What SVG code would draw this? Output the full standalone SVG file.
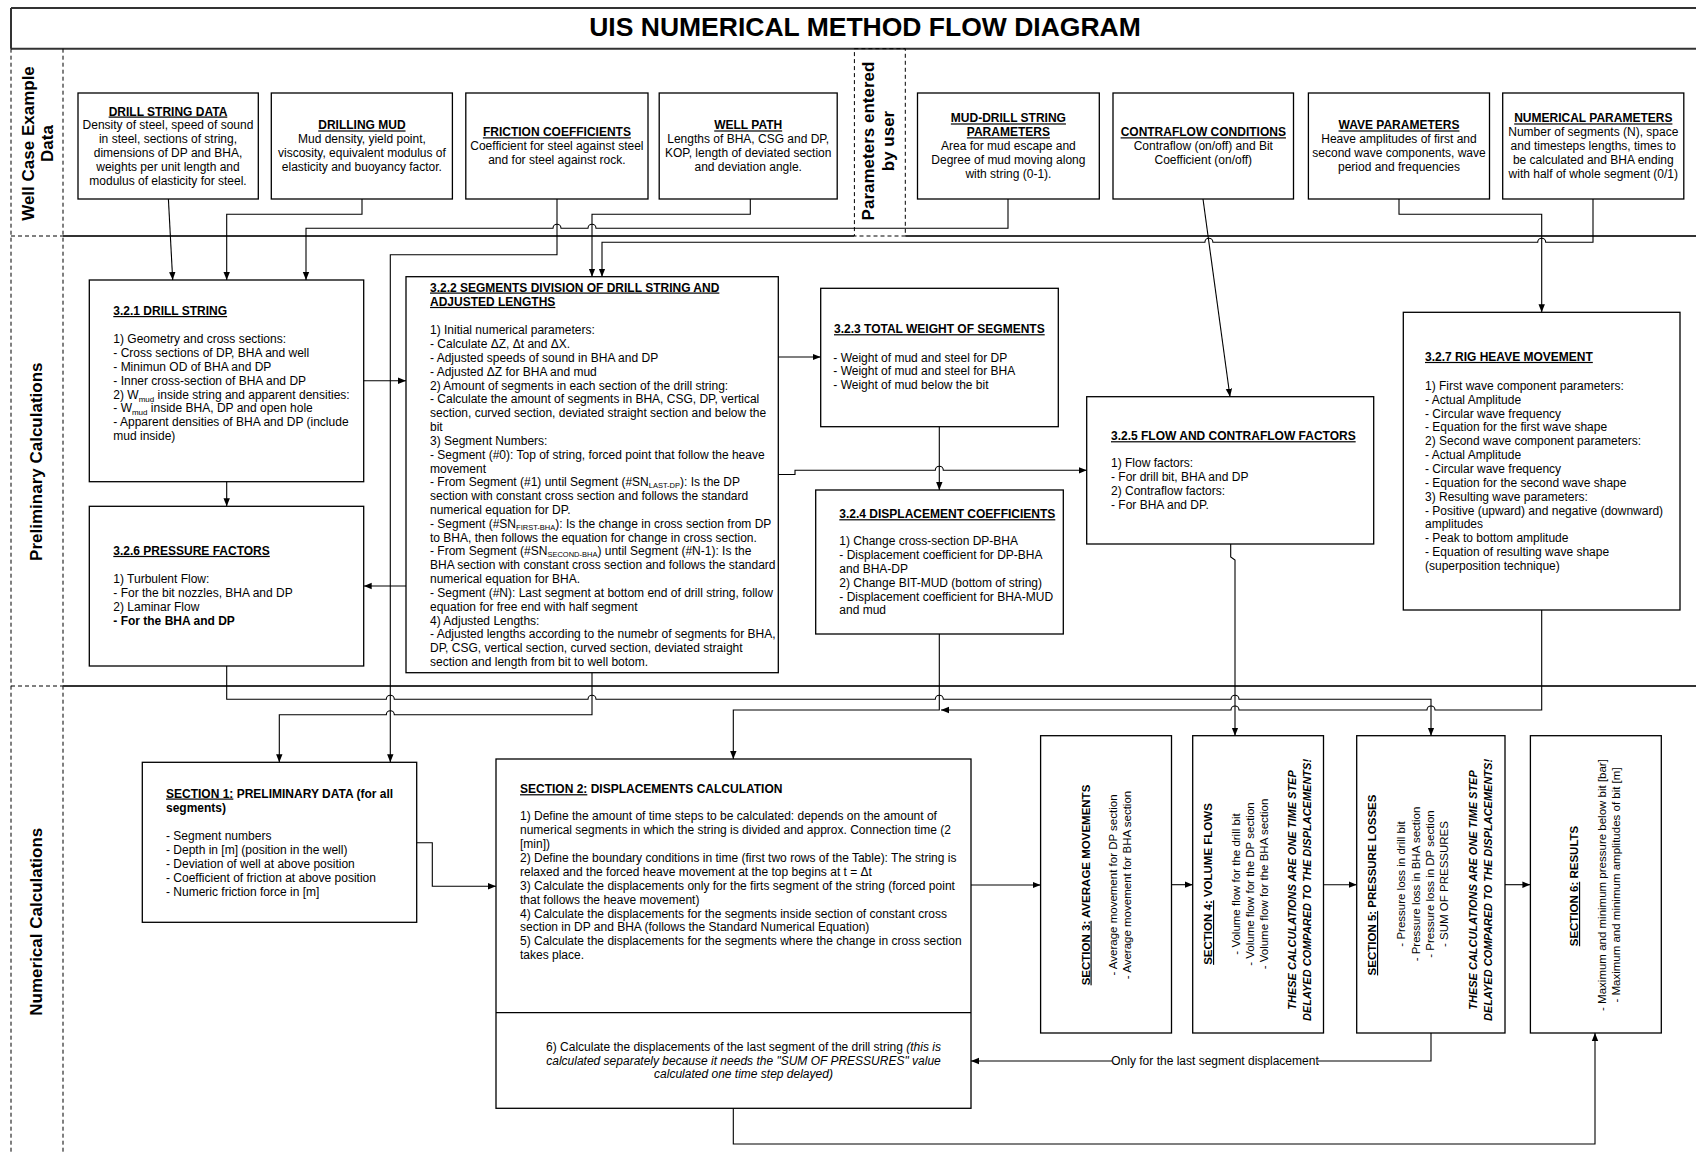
<svg xmlns="http://www.w3.org/2000/svg" width="1696" height="1154" viewBox="0 0 1696 1154">
<defs>
<style>
text{font-family:"Liberation Sans",Arial,sans-serif;font-size:12px;fill:#000}
.b{font-weight:bold}
.u{text-decoration:underline}
.i{font-style:italic}
.m{text-anchor:middle}
.lab{font-size:17px;font-weight:bold}
.r{font-size:11.5px}
.ri{font-size:11px;font-weight:bold;font-style:italic}
.box{fill:#fff;stroke:#000;stroke-width:1.3}
.lane{stroke:#333;stroke-width:2;fill:none}
.dash{stroke:#000;stroke-width:1;stroke-dasharray:4 3;fill:none}
#connectors path{fill:none;stroke:#000;stroke-width:1.1}
</style>
<marker id="arr" viewBox="0 0 10 10" refX="10" refY="5" markerWidth="8" markerHeight="8" orient="auto" markerUnits="userSpaceOnUse"><path d="M0,1 L10,5 L0,9 z" fill="#000"/></marker>
</defs>
<rect width="1696" height="1154" fill="#fff"/>

<g id="frame">
<line class="lane" x1="11" y1="8" x2="1696" y2="8"/>
<line class="lane" x1="11" y1="48.7" x2="1696" y2="48.7"/>
<line class="lane" x1="11" y1="8" x2="11" y2="48.7"/>
<line class="dash" x1="11" y1="48.7" x2="11" y2="1154"/>
<line class="dash" x1="63" y1="48.7" x2="63" y2="1154"/>
<line class="dash" x1="11" y1="236" x2="63" y2="236"/>
<line class="dash" x1="11" y1="686" x2="63" y2="686"/>
<line class="lane" x1="63" y1="236" x2="854.4" y2="236"/>
<line class="lane" x1="905.3" y1="236" x2="1696" y2="236"/>
<line class="lane" x1="63" y1="686" x2="1696" y2="686"/>
<rect class="dash" x="854.4" y="48.7" width="50.9" height="187.3"/>
<text class="b m" x="865" y="36" style="font-size:26.5px">UIS NUMERICAL METHOD FLOW DIAGRAM</text>
<text class="lab m" transform="translate(34,143.5) rotate(-90)">Well Case Example</text>
<text class="lab m" transform="translate(52.5,143.5) rotate(-90)">Data</text>
<text class="lab m" transform="translate(41.5,461.7) rotate(-90)">Preliminary Calculations</text>
<text class="lab m" transform="translate(41.5,921.7) rotate(-90)">Numerical Calculations</text>
<text class="lab m" transform="translate(873.5,141) rotate(-90)">Parameters entered</text>
<text class="lab m" transform="translate(893.5,141) rotate(-90)">by user</text>
</g>

<g id="connectors">
<path d="M168.4,199 L172.7,280" marker-end="url(#arr)"/>
<path d="M362,199 V214.3 H226.7 V280" marker-end="url(#arr)"/>
<path d="M1008,199 V228.3 H596 A4,4 0 0 0 588,228.3 H561 A4,4 0 0 0 553,228.3 H306 V280" marker-end="url(#arr)"/>
<path d="M557,199 V254.7 H390.3 V762.3" marker-end="url(#arr)"/>
<path d="M750.3,199 V214.3 H592 V276.7" marker-end="url(#arr)"/>
<path d="M1593,199 V242.3 H1545.7 A4,4 0 0 0 1537.7,242.3 H1212.9 A4,4 0 0 0 1204.9,242.3 H602 V276.7" marker-end="url(#arr)"/>
<path d="M1399,199 V214.3 H1541.7 V312.3" marker-end="url(#arr)"/>
<path d="M1203,199 L1230,396.7" marker-end="url(#arr)"/>
<path d="M363.7,380.7 H406" marker-end="url(#arr)"/>
<path d="M226.7,481.7 V506.3" marker-end="url(#arr)"/>
<path d="M406,586 H363.7" marker-end="url(#arr)"/>
<path d="M778.3,357 H820.7" marker-end="url(#arr)"/>
<path d="M778.3,474.5 H795 V470.3 H935.3 A4,4 0 0 1 943.3,470.3 H1086.7" marker-end="url(#arr)"/>
<path d="M939.3,426.7 V490" marker-end="url(#arr)"/>
<path d="M1230.7,544 V557 L1235,560 V735.7" marker-end="url(#arr)"/>
<path d="M226.7,666 V699.3 H386.3 A4,4 0 0 1 394.3,699.3 H588 A4,4 0 0 1 596,699.3 H935.3 A4,4 0 0 1 943.3,699.3 H1231 A4,4 0 0 1 1239,699.3 H1431 V735.7" marker-end="url(#arr)"/>
<path d="M592,672.7 V714.7 H394.3 A4,4 0 0 0 386.3,714.7 H279.3 V762.3" marker-end="url(#arr)"/>
<path d="M939.3,634 V710 H733.3 V759" marker-end="url(#arr)"/>
<path d="M1541.7,610 V710 H1435 A4,4 0 0 0 1427,710 H1239 A4,4 0 0 0 1231,710 H941" marker-end="url(#arr)"/>
<path d="M416.7,842.7 H432.3 V886.3 H496" marker-end="url(#arr)"/>
<path d="M971,885 H1040.6" marker-end="url(#arr)"/>
<path d="M1171.5,884.7 H1192.7" marker-end="url(#arr)"/>
<path d="M1323.5,884.7 H1356.7" marker-end="url(#arr)"/>
<path d="M1505,884.7 H1530.4" marker-end="url(#arr)"/>
<path d="M1431,1033 V1061 H971" marker-end="url(#arr)"/>
<path d="M733.3,1108.3 V1144 H1595 V1033" marker-end="url(#arr)"/>
<rect x="1112" y="1053" width="206" height="15" fill="#fff"/>
<text class="m" x="1215" y="1065">Only for the last segment displacement</text>
</g>

<g id="drill-string-data">
<rect class="box" x="78" y="93" width="180.3" height="106"/>
<text class="m" x="168" y="115.5"><tspan class="b u">DRILL STRING DATA</tspan><tspan x="168" dy="13.9">Density of steel, speed of sound</tspan><tspan x="168" dy="13.9">in steel, sections of string,</tspan><tspan x="168" dy="13.9">dimensions of DP and BHA,</tspan><tspan x="168" dy="13.9">weights per unit length and</tspan><tspan x="168" dy="13.9">modulus of elasticity for steel.</tspan></text>
</g>
<g id="drilling-mud">
<rect class="box" x="271.3" y="93" width="181.1" height="106"/>
<text class="m" x="361.9" y="129.4"><tspan class="b u">DRILLING MUD</tspan><tspan x="361.9" dy="13.9">Mud density, yield point,</tspan><tspan x="361.9" dy="13.9">viscosity, equivalent modulus of</tspan><tspan x="361.9" dy="13.9">elasticity and buoyancy factor.</tspan></text>
</g>
<g id="friction-coefficients">
<rect class="box" x="465.8" y="93" width="182.2" height="106"/>
<text class="m" x="556.9" y="136.3"><tspan class="b u">FRICTION COEFFICIENTS</tspan><tspan x="556.9" dy="13.9">Coefficient for steel against steel</tspan><tspan x="556.9" dy="13.9">and for steel against rock.</tspan></text>
</g>
<g id="well-path">
<rect class="box" x="659.2" y="93" width="178" height="106"/>
<text class="m" x="748.2" y="129.4"><tspan class="b u">WELL PATH</tspan><tspan x="748.2" dy="13.9">Lengths of BHA, CSG and DP,</tspan><tspan x="748.2" dy="13.9">KOP, length of deviated section</tspan><tspan x="748.2" dy="13.9">and deviation angle.</tspan></text>
</g>
<g id="mud-drill-string-parameters">
<rect class="box" x="917.5" y="93" width="181.8" height="106"/>
<text class="m" x="1008.4" y="122.4"><tspan class="b u">MUD-DRILL STRING</tspan><tspan x="1008.4" dy="13.9" class="b u">PARAMETERS</tspan><tspan x="1008.4" dy="13.9">Area for mud escape and</tspan><tspan x="1008.4" dy="13.9">Degree of mud moving along</tspan><tspan x="1008.4" dy="13.9">with string (0-1).</tspan></text>
</g>
<g id="contraflow-conditions">
<rect class="box" x="1113" y="93" width="180.5" height="106"/>
<text class="m" x="1203.3" y="136.3"><tspan class="b u">CONTRAFLOW CONDITIONS</tspan><tspan x="1203.3" dy="13.9">Contraflow (on/off) and Bit</tspan><tspan x="1203.3" dy="13.9">Coefficient (on/off)</tspan></text>
</g>
<g id="wave-parameters">
<rect class="box" x="1308.4" y="93" width="181.1" height="106"/>
<text class="m" x="1399" y="129.4"><tspan class="b u">WAVE PARAMETERS</tspan><tspan x="1399" dy="13.9">Heave amplitudes of first and</tspan><tspan x="1399" dy="13.9">second wave components, wave</tspan><tspan x="1399" dy="13.9">period and frequencies</tspan></text>
</g>
<g id="numerical-parameters">
<rect class="box" x="1502.7" y="93" width="181.1" height="106"/>
<text class="m" x="1593.3" y="122.4"><tspan class="b u">NUMERICAL PARAMETERS</tspan><tspan x="1593.3" dy="13.9">Number of segments (N), space</tspan><tspan x="1593.3" dy="13.9">and timesteps lengths, times to</tspan><tspan x="1593.3" dy="13.9">be calculated and BHA ending</tspan><tspan x="1593.3" dy="13.9">with half of whole segment (0/1)</tspan></text>
</g>

<g id="n321-drill-string">
<rect class="box" x="89.3" y="280" width="274.4" height="201.7"/>
<text x="113.3" y="315"><tspan class="b u">3.2.1 DRILL STRING</tspan><tspan x="113.3" y="343.2">1) Geometry and cross sections:</tspan><tspan x="113.3" dy="13.85">- Cross sections of DP, BHA and well</tspan><tspan x="113.3" dy="13.85">- Minimun OD of BHA and DP</tspan><tspan x="113.3" dy="13.85">- Inner cross-section of BHA and DP</tspan><tspan x="113.3" dy="13.85">2) W</tspan><tspan font-size="8" dy="3">mud</tspan><tspan dy="-3"> inside string and apparent densities:</tspan><tspan x="113.3" dy="13.85">- W</tspan><tspan font-size="8" dy="3">mud</tspan><tspan dy="-3"> inside BHA, DP and open hole</tspan><tspan x="113.3" dy="13.85">- Apparent densities of BHA and DP (include</tspan><tspan x="113.3" dy="13.85">mud inside)</tspan></text>
</g>

<g id="n326-pressure-factors">
<rect class="box" x="89.3" y="506.3" width="274.4" height="159.7"/>
<text x="113.3" y="554.9"><tspan class="b u">3.2.6 PRESSURE FACTORS</tspan><tspan x="113.3" y="583.2">1) Turbulent Flow:</tspan><tspan x="113.3" dy="13.9">- For the bit nozzles, BHA and DP</tspan><tspan x="113.3" dy="13.9">2) Laminar Flow</tspan><tspan x="113.3" dy="13.9" class="b">- For the BHA and DP</tspan></text>
</g>

<g id="n322-segments-division">
<rect class="box" x="406" y="276.7" width="372.3" height="396"/>
<text x="430" y="291.5"><tspan class="b u">3.2.2 SEGMENTS DIVISION OF DRILL STRING AND</tspan><tspan x="430" dy="14.4" class="b u">ADJUSTED LENGTHS</tspan>
<tspan x="430" y="334.2">1) Initial numerical parameters:</tspan>
<tspan x="430" dy="13.83">- Calculate ΔZ, Δt and ΔX.</tspan>
<tspan x="430" dy="13.83">- Adjusted speeds of sound in BHA and DP</tspan>
<tspan x="430" dy="13.83">- Adjusted ΔZ for BHA and mud</tspan>
<tspan x="430" dy="13.83">2) Amount of segments in each section of the drill string:</tspan>
<tspan x="430" dy="13.83">- Calculate the amount of segments in BHA, CSG, DP, vertical</tspan>
<tspan x="430" dy="13.83">section, curved section, deviated straight section and below the</tspan>
<tspan x="430" dy="13.83">bit</tspan>
<tspan x="430" dy="13.83">3) Segment Numbers:</tspan>
<tspan x="430" dy="13.83">- Segment (#0): Top of string, forced point that follow the heave</tspan>
<tspan x="430" dy="13.83">movement</tspan>
<tspan x="430" dy="13.83">- From Segment (#1) until Segment (#SN</tspan><tspan font-size="7.5" dy="2">LAST-DP</tspan><tspan dy="-2">): Is the DP</tspan>
<tspan x="430" dy="13.83">section with constant cross section and follows the standard</tspan>
<tspan x="430" dy="13.83">numerical equation for DP.</tspan>
<tspan x="430" dy="13.83">- Segment (#SN</tspan><tspan font-size="7.5" dy="2">FIRST-BHA</tspan><tspan dy="-2">): Is the change in cross section from DP</tspan>
<tspan x="430" dy="13.83">to BHA, then follows the equation for change in cross section.</tspan>
<tspan x="430" dy="13.83">- From Segment (#SN</tspan><tspan font-size="7.5" dy="2">SECOND-BHA</tspan><tspan dy="-2">) until Segment (#N-1): Is the</tspan>
<tspan x="430" dy="13.83">BHA section with constant cross section and follows the standard</tspan>
<tspan x="430" dy="13.83">numerical equation for BHA.</tspan>
<tspan x="430" dy="13.83">- Segment (#N): Last segment at bottom end of drill string, follow</tspan>
<tspan x="430" dy="13.83">equation for free end with half segment</tspan>
<tspan x="430" dy="13.83">4) Adjusted Lengths:</tspan>
<tspan x="430" dy="13.83">- Adjusted lengths according to the numebr of segments for BHA,</tspan>
<tspan x="430" dy="13.83">DP, CSG, vertical section, curved section, deviated straight</tspan>
<tspan x="430" dy="13.83">section and length from bit to well botom.</tspan></text>
</g>

<g id="n323-total-weight">
<rect class="box" x="820.7" y="288.3" width="237.6" height="138.4"/>
<text x="834" y="333.2"><tspan class="b u">3.2.3 TOTAL WEIGHT OF SEGMENTS</tspan><tspan x="833.3" y="361.5">- Weight of mud and steel for DP</tspan><tspan x="833.3" dy="13.85">- Weight of mud and steel for BHA</tspan><tspan x="833.3" dy="13.85">- Weight of mud below the bit</tspan></text>
</g>

<g id="n324-displacement-coefficients">
<rect class="box" x="815.7" y="490" width="247.6" height="144"/>
<text x="839.3" y="518.2"><tspan class="b u">3.2.4 DISPLACEMENT COEFFICIENTS</tspan><tspan x="839.3" y="544.9">1) Change cross-section DP-BHA</tspan><tspan x="839.3" dy="13.9">- Displacement coefficient for DP-BHA</tspan><tspan x="839.3" dy="13.9">and BHA-DP</tspan><tspan x="839.3" dy="13.9">2) Change BIT-MUD (bottom of string)</tspan><tspan x="839.3" dy="13.9">- Displacement coefficient for BHA-MUD</tspan><tspan x="839.3" dy="13.9">and mud</tspan></text>
</g>

<g id="n325-flow-contraflow">
<rect class="box" x="1086.7" y="396.7" width="287" height="147.3"/>
<text x="1111" y="440.2"><tspan class="b u">3.2.5 FLOW AND CONTRAFLOW FACTORS</tspan><tspan x="1111" y="466.9">1) Flow factors:</tspan><tspan x="1111" dy="13.9">- For drill bit, BHA and DP</tspan><tspan x="1111" dy="13.9">2) Contraflow factors:</tspan><tspan x="1111" dy="13.9">- For BHA and DP.</tspan></text>
</g>

<g id="n327-rig-heave">
<rect class="box" x="1403.3" y="312.3" width="276.7" height="297.7"/>
<text x="1425" y="360.9"><tspan class="b u">3.2.7 RIG HEAVE MOVEMENT</tspan>
<tspan x="1425" y="389.9">1) First wave component parameters:</tspan>
<tspan x="1425" dy="13.85">- Actual Amplitude</tspan>
<tspan x="1425" dy="13.85">- Circular wave frequency</tspan>
<tspan x="1425" dy="13.85">- Equation for the first wave shape</tspan>
<tspan x="1425" dy="13.85">2) Second wave component parameters:</tspan>
<tspan x="1425" dy="13.85">- Actual Amplitude</tspan>
<tspan x="1425" dy="13.85">- Circular wave frequency</tspan>
<tspan x="1425" dy="13.85">- Equation for the second wave shape</tspan>
<tspan x="1425" dy="13.85">3) Resulting wave parameters:</tspan>
<tspan x="1425" dy="13.85">- Positive (upward) and negative (downward)</tspan>
<tspan x="1425" dy="13.85">amplitudes</tspan>
<tspan x="1425" dy="13.85">- Peak to bottom amplitude</tspan>
<tspan x="1425" dy="13.85">- Equation of resulting wave shape</tspan>
<tspan x="1425" dy="13.85">(superposition technique)</tspan></text>
</g>

<g id="section1">
<rect class="box" x="142.3" y="762.3" width="274.4" height="160"/>
<text x="166" y="797.5" class="b"><tspan class="u">SECTION 1:</tspan><tspan> PRELIMINARY DATA (for all</tspan><tspan x="166" dy="14">segments)</tspan></text>
<text x="166" y="839.5"><tspan>- Segment numbers</tspan><tspan x="166" dy="14">- Depth in [m] (position in the well)</tspan><tspan x="166" dy="14">- Deviation of well at above position</tspan><tspan x="166" dy="14">- Coefficient of friction at above position</tspan><tspan x="166" dy="14">- Numeric friction force in [m]</tspan></text>
</g>

<g id="section2">
<rect class="box" x="496" y="759" width="475" height="349.3"/>
<line x1="496" y1="1012.7" x2="971" y2="1012.7" stroke="#000" stroke-width="1.3"/>
<text x="520" y="793.2" class="b"><tspan class="u">SECTION 2:</tspan><tspan> DISPLACEMENTS CALCULATION</tspan></text>
<text x="520" y="820.2">
<tspan x="520">1) Define the amount of time steps to be calculated: depends on the amount of</tspan>
<tspan x="520" dy="13.9">numerical segments in which the string is divided and approx. Connection time (2</tspan>
<tspan x="520" dy="13.9">[min])</tspan>
<tspan x="520" dy="13.9">2) Define the boundary conditions in time (first two rows of the Table): The string is</tspan>
<tspan x="520" dy="13.9">relaxed and the forced heave movement at the top begins at t = Δt</tspan>
<tspan x="520" dy="13.9">3) Calculate the displacements only for the firts segment of the string (forced point</tspan>
<tspan x="520" dy="13.9">that follows the heave movement)</tspan>
<tspan x="520" dy="13.9">4) Calculate the displacements for the segments inside section of constant cross</tspan>
<tspan x="520" dy="13.9">section in DP and BHA (follows the Standard Numerical Equation)</tspan>
<tspan x="520" dy="13.9">5) Calculate the displacements for the segments where the change in cross section</tspan>
<tspan x="520" dy="13.9">takes place.</tspan></text>
<text class="m" x="743.5" y="1050.9"><tspan>6) Calculate the displacements of the last segment of the drill string </tspan><tspan class="i">(this is</tspan><tspan x="743.5" dy="13.6" class="i">calculated separately because it needs the "SUM OF PRESSURES" value</tspan><tspan x="743.5" dy="13.6" class="i">calculated one time step delayed)</tspan></text>
</g>

<g id="section3">
<rect class="box" x="1040.6" y="735.7" width="130.9" height="297.3"/>
<text class="r b m" transform="translate(1089.5,885) rotate(-90)"><tspan class="u">SECTION 3:</tspan> AVERAGE MOVEMENTS</text>
<text class="r m" transform="translate(1117.3,885) rotate(-90)">- Average movement for DP section</text>
<text class="r m" transform="translate(1131,885) rotate(-90)">- Average movement for BHA section</text>
</g>

<g id="section4">
<rect class="box" x="1192.7" y="735.7" width="130.8" height="297.3"/>
<text class="r b m" transform="translate(1212,884) rotate(-90)"><tspan class="u">SECTION 4:</tspan> VOLUME FLOWS</text>
<text class="r m" transform="translate(1239.5,884) rotate(-90)">- Volume flow for the drill bit</text>
<text class="r m" transform="translate(1253.8,884) rotate(-90)">- Volume flow for the DP section</text>
<text class="r m" transform="translate(1267.8,884) rotate(-90)">- Volume flow for the BHA section</text>
<text class="ri m" transform="translate(1296.3,890) rotate(-90)">THESE CALCULATIONS ARE ONE TIME STEP</text>
<text class="ri m" transform="translate(1311,890) rotate(-90)">DELAYED COMPARED TO THE DISPLACEMENTS!</text>
</g>

<g id="section5">
<rect class="box" x="1356.7" y="735.7" width="148.3" height="297.3"/>
<text class="r b m" transform="translate(1376,885) rotate(-90)"><tspan class="u">SECTION 5:</tspan> PRESSURE LOSSES</text>
<text class="r m" transform="translate(1405,884) rotate(-90)">- Pressure loss in drill bit</text>
<text class="r m" transform="translate(1419.5,884) rotate(-90)">- Pressure loss in BHA section</text>
<text class="r m" transform="translate(1433.5,884) rotate(-90)">- Pressure loss in DP section</text>
<text class="r m" transform="translate(1448.4,884) rotate(-90)">- SUM OF PRESSURES</text>
<text class="ri m" transform="translate(1476.8,890) rotate(-90)">THESE CALCULATIONS ARE ONE TIME STEP</text>
<text class="ri m" transform="translate(1491.7,890) rotate(-90)">DELAYED COMPARED TO THE DISPLACEMENTS!</text>
</g>

<g id="section6">
<rect class="box" x="1530.4" y="735.7" width="130.9" height="297.3"/>
<text class="r b m" transform="translate(1578,886) rotate(-90)"><tspan class="u">SECTION 6:</tspan> RESULTS</text>
<text class="r m" transform="translate(1605.6,885) rotate(-90)">- Maximum and minimum pressure below bit [bar]</text>
<text class="r m" transform="translate(1620.4,885) rotate(-90)">- Maximum and minimum amplitudes of bit [m]</text>
</g>
</svg>
